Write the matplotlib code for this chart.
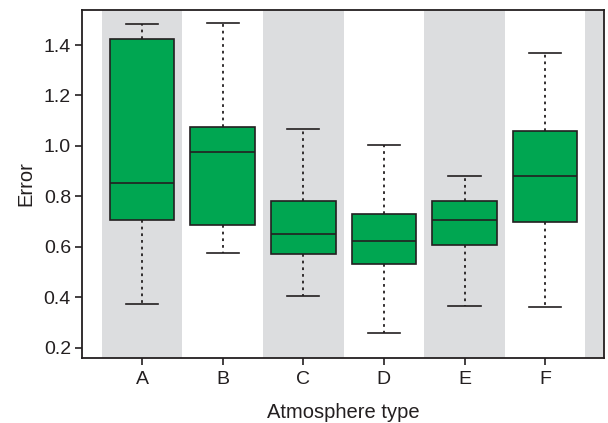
import matplotlib
matplotlib.use("Agg")
import matplotlib.pyplot as plt

plt.rcParams["font.family"] = ["Liberation Sans", "DejaVu Sans"]

categories = ["A", "B", "C", "D", "E", "F"]
whisker_low = [0.374, 0.576, 0.406, 0.257, 0.365, 0.360]
q1 = [0.706, 0.688, 0.572, 0.530, 0.608, 0.697]
median = [0.852, 0.975, 0.652, 0.622, 0.706, 0.882]
q3 = [1.424, 1.074, 0.782, 0.732, 0.782, 1.058]
whisker_high = [1.483, 1.487, 1.068, 1.005, 0.880, 1.370]

ink = "#231f20"
green = "#00a651"
band = "#dcdddf"

stats = []
for i, name in enumerate(categories):
    stats.append({
        "label": name,
        "whislo": whisker_low[i],
        "q1": q1[i],
        "med": median[i],
        "q3": q3[i],
        "whishi": whisker_high[i],
        "fliers": [],
    })

fig = plt.figure(figsize=(6.08, 4.23), dpi=100)
ax = fig.add_axes([82 / 608, 65 / 423, 522 / 608, 348 / 423])

positions = list(range(1, len(categories) + 1))
for p in range(1, len(categories) + 2, 2):
    ax.axvspan(p - 0.5, p + 0.5, color=band, lw=0, zorder=0)

ax.bxp(
    stats,
    positions=positions,
    widths=0.8,
    patch_artist=True,
    showfliers=False,
    boxprops=dict(facecolor=green, edgecolor=ink, linewidth=1.2),
    medianprops=dict(color=ink, linewidth=1.2),
    whiskerprops=dict(color=ink, linewidth=1.3, linestyle=(0, (1.5, 2.2))),
    capprops=dict(color=ink, linewidth=1.2),
    capwidths=0.4,
    zorder=2,
)

ax.set_xlim(0.255, 6.73)
ax.set_ylim(0.159, 1.539)
ax.set_yticks([0.2, 0.4, 0.6, 0.8, 1.0, 1.2, 1.4])
ax.set_yticklabels(["0.2", "0.4", "0.6", "0.8", "1.0", "1.2", "1.4"])
ax.set_xticks(positions)
ax.set_xticklabels(categories)
ax.tick_params(axis="both", colors=ink, labelsize=14, length=5, width=1.2)
ax.tick_params(axis="y", pad=3)
ax.tick_params(axis="x", pad=4)
for s in ax.spines.values():
    s.set_color(ink)
    s.set_linewidth(1.3)

ax.set_xlabel("Atmosphere type", fontsize=14.5, color=ink, labelpad=11)
ax.set_ylabel("Error", fontsize=14.5, color=ink, labelpad=6)

fig.savefig("out.png", dpi=100)
